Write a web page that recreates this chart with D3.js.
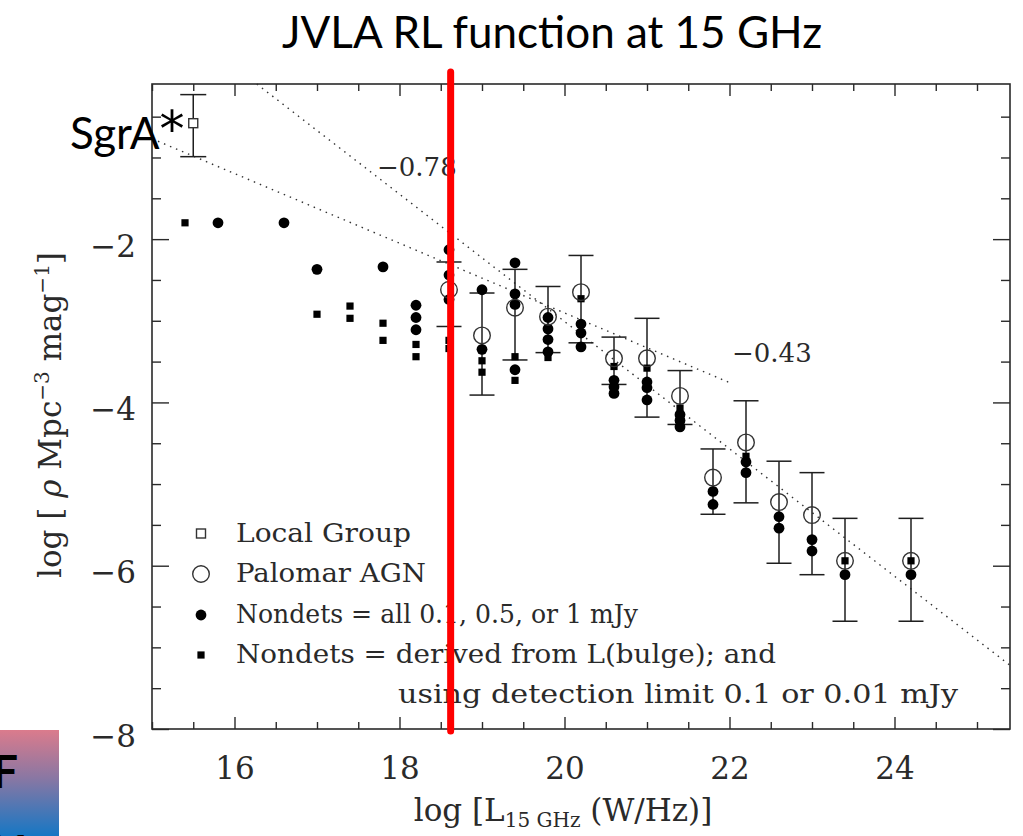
<!DOCTYPE html>
<html>
<head>
<meta charset="utf-8">
<script src="https://cdn.jsdelivr.net/npm/d3@7"></script>
<style>
  html, body { margin: 0; padding: 0; background: #fff; }
  svg { display: block; }
</style>
</head>
<body>
<svg id="chart" width="1023" height="836"></svg>
<script>
// ---- data ---------------------------------------------------------------
// Local Group (Sgr A*) point: log L, log rho, error bar range
const localX = [15.5];
const localY = [-0.58];
const localHi = [-0.23];
const localLo = [-0.99];

// Palomar AGN detections (open circles with error bars)
const palX  = [18.6, 19.0, 19.4, 19.8, 20.2, 20.6, 21.0, 21.4, 21.8, 22.2, 22.6, 23.0, 23.4, 24.2];
const palY  = [-2.62, -3.18, -2.84, -2.95, -2.65, -3.46, -3.46, -3.92, -4.92, -4.49, -5.22, -5.38, -5.94, -5.94];
const palHi = [-2.28, -2.66, -2.37, -2.58, -2.20, -3.20, -2.97, -3.61, -4.57, -3.98, -4.72, -4.86, -5.42, -5.42];
const palLo = [-3.07, -3.91, -3.48, -3.39, -3.27, -3.78, -4.18, -4.27, -5.37, -5.23, -5.97, -6.11, -6.68, -6.68];

// Non-detections at a fixed flux limit (filled circles)
const circX = [15.8, 16.6, 17.0, 17.8,
  18.2, 18.2, 18.2, 18.6, 18.6, 18.6, 19.0, 19.0,
  19.4, 19.4, 19.4, 19.4, 19.8, 19.8, 19.8, 19.8,
  20.2, 20.2, 20.2, 20.6, 20.6, 20.6, 21.0, 21.0, 21.0,
  21.4, 21.4, 21.4, 21.8, 21.8, 22.2, 22.2, 22.6, 22.6,
  23.0, 23.0, 23.4, 24.2];
const circY = [-1.80, -1.80, -2.37, -2.34,
  -2.81, -2.96, -3.11, -2.13, -2.44, -2.74, -2.62, -3.35,
  -2.29, -2.67, -2.80, -3.60, -2.96, -3.10, -3.23, -3.38,
  -3.04, -3.15, -3.32, -3.73, -3.81, -3.89, -3.75, -3.82, -3.97,
  -4.15, -4.22, -4.30, -5.09, -5.25, -4.73, -4.86, -5.40, -5.54,
  -5.68, -5.82, -6.11, -6.11];

// Non-detections from bulge luminosity (filled squares)
const sqX = [15.4, 17.0, 17.4, 17.4, 17.8, 17.8, 18.2, 18.2, 18.6, 18.6,
  19.0, 19.0, 19.4, 19.4, 19.8, 20.2, 20.6, 21.0, 21.4, 22.2, 23.4, 24.2];
const sqY = [-1.80, -2.92, -2.82, -2.97, -3.03, -3.24, -3.29, -3.44, -3.24, -3.34,
  -3.49, -3.63, -3.44, -3.73, -3.45, -2.73, -3.56, -3.58, -4.07, -4.66, -5.94, -5.94];

// Power-law slope guides: [x0, y0, x1, y1] in data units, with their labels
const slopeLabels = ["\u22120.78", "\u22120.43"];
const slopeSteep = [16.27, -0.10, 25.4, -7.22];
const slopeShallow = [15.0, -0.77, 22.03, -3.77];

// Luminosity marked by the vertical cut
const cutL = 18.62;

// Axis ticks
const xMajor = [16, 18, 20, 22, 24];
const yMajor = [-8, -6, -4, -2];

const legendLabels = [
  "Local Group",
  "Palomar AGN",
  "Nondets = all 0.1, 0.5, or 1 mJy",
  "Nondets = derived from L(bulge); and",
  "using detection limit 0.1 or 0.01 mJy"
];

// ---- drawing ------------------------------------------------------------
const svg = d3.select("#chart");
const serif = "'DejaVu Serif', serif";
const ink = "#2a2a2a";

const x = d3.scaleLinear().domain([15, 25.4]).range([152, 1010]);
const y = d3.scaleLinear().domain([-8, -0.1]).range([729, 84]);
const [x0, x1] = x.range();
const [y0, y1] = y.range();

const xMinor = d3.range(15, 25.41, 0.5).filter(v => !xMajor.includes(v));
const yMinor = d3.range(-8, -0.09, 0.5).filter(v => !yMajor.includes(v));

// gradient tab at lower left
const defs = svg.append("defs");
const grad = defs.append("linearGradient").attr("id", "tab")
  .attr("x1", 0).attr("y1", 0).attr("x2", 0).attr("y2", 1);
grad.append("stop").attr("offset", "0%").attr("stop-color", "#db7b8c");
grad.append("stop").attr("offset", "45%").attr("stop-color", "#8a77a3");
grad.append("stop").attr("offset", "100%").attr("stop-color", "#1677c4");
svg.append("rect").attr("x", 0).attr("y", 730).attr("width", 59).attr("height", 106)
  .attr("fill", "url(#tab)");
svg.append("text").attr("x", -8).attr("y", 788).text("F")
  .attr("font-family", "Lato, sans-serif").attr("font-weight", 700)
  .attr("font-size", 46).attr("fill", "#000");
svg.append("text").attr("x", -6).attr("y", 868).text("Y")
  .attr("font-family", "Lato, sans-serif").attr("font-weight", 700)
  .attr("font-size", 46).attr("fill", "#000");

// axes with inward ticks on all four sides
function styleAxis(g) {
  g.select(".domain").remove();
  g.selectAll("line").attr("stroke", ink).attr("stroke-width", 1.4);
  g.selectAll("text").attr("font-family", serif).attr("font-size", 31).attr("fill", ink);
}
svg.append("g").attr("transform", `translate(0,${y0})`)
  .call(d3.axisBottom(x).tickValues(xMajor).tickSize(-12).tickPadding(28).tickFormat(d3.format("d")))
  .call(styleAxis);
svg.append("g").attr("transform", `translate(0,${y0})`)
  .call(d3.axisBottom(x).tickValues(xMinor).tickSize(-7).tickFormat(""))
  .call(styleAxis);
svg.append("g").attr("transform", `translate(0,${y1})`)
  .call(d3.axisTop(x).tickValues(xMajor).tickSize(-12).tickFormat(""))
  .call(styleAxis);
svg.append("g").attr("transform", `translate(0,${y1})`)
  .call(d3.axisTop(x).tickValues(xMinor).tickSize(-7).tickFormat(""))
  .call(styleAxis);
const yl = svg.append("g").attr("transform", `translate(${x0},0)`)
  .call(d3.axisLeft(y).tickValues(yMajor).tickSize(-17).tickPadding(16).tickFormat(d3.format("d")))
  .call(styleAxis);
yl.selectAll("text").attr("dy", "0.55em");
svg.append("g").attr("transform", `translate(${x0},0)`)
  .call(d3.axisLeft(y).tickValues(yMinor).tickSize(-9).tickFormat(""))
  .call(styleAxis);
svg.append("g").attr("transform", `translate(${x1},0)`)
  .call(d3.axisRight(y).tickValues(yMajor).tickSize(-17).tickFormat(""))
  .call(styleAxis);
svg.append("g").attr("transform", `translate(${x1},0)`)
  .call(d3.axisRight(y).tickValues(yMinor).tickSize(-9).tickFormat(""))
  .call(styleAxis);
svg.append("rect").attr("x", x0).attr("y", y1).attr("width", x1 - x0).attr("height", y0 - y1)
  .attr("fill", "none").attr("stroke", ink).attr("stroke-width", 1.6);

// dotted slope guides
[slopeSteep, slopeShallow].forEach(s => {
  svg.append("line")
    .attr("x1", x(s[0])).attr("y1", y(s[1])).attr("x2", x(s[2])).attr("y2", y(s[3]))
    .attr("stroke", "#333").attr("stroke-width", 1.4).attr("stroke-dasharray", "1.5 5");
});
svg.append("text").attr("x", 377).attr("y", 176).text(slopeLabels[0])
  .attr("font-family", serif).attr("font-size", 26).attr("fill", ink);
svg.append("text").attr("x", 732).attr("y", 362).text(slopeLabels[1])
  .attr("font-family", serif).attr("font-size", 26).attr("fill", ink);

// error bars
function errorBars(xs, lo, hi, half) {
  const g = svg.append("g").attr("stroke", "#1e1e1e").attr("stroke-width", 1.5);
  xs.forEach((xv, i) => {
    const cx = x(xv);
    g.append("line").attr("x1", cx).attr("x2", cx).attr("y1", y(lo[i])).attr("y2", y(hi[i]));
    g.append("line").attr("x1", cx - half).attr("x2", cx + half).attr("y1", y(lo[i])).attr("y2", y(lo[i]));
    g.append("line").attr("x1", cx - half).attr("x2", cx + half).attr("y1", y(hi[i])).attr("y2", y(hi[i]));
  });
}
errorBars(palX, palLo, palHi, 12.5);
errorBars(localX, localLo, localHi, 13);

// filled squares
svg.append("g").selectAll("rect").data(sqX).join("rect")
  .attr("x", (d) => x(d) - 3.6).attr("y", (d, i) => y(sqY[i]) - 3.6)
  .attr("width", 7.2).attr("height", 7.2).attr("fill", "#000");

// filled circles
svg.append("g").selectAll("circle").data(circX).join("circle")
  .attr("cx", d => x(d)).attr("cy", (d, i) => y(circY[i])).attr("r", 5.4).attr("fill", "#000");

// open circles
svg.append("g").selectAll("circle").data(palX).join("circle")
  .attr("cx", d => x(d)).attr("cy", (d, i) => y(palY[i])).attr("r", 8.3)
  .attr("fill", "none").attr("stroke", "#333").attr("stroke-width", 1.4);

// open square
svg.append("g").selectAll("rect").data(localX).join("rect")
  .attr("x", d => x(d) - 4.5).attr("y", (d, i) => y(localY[i]) - 4.5)
  .attr("width", 9).attr("height", 9).attr("fill", "#fff")
  .attr("stroke", "#333").attr("stroke-width", 1.4);

// legend
const lg = svg.append("g").attr("font-family", serif).attr("font-size", 26).attr("fill", ink);
const symX = 201, txtX = 236;
const rows = [542, 582, 623, 663];
lg.append("rect").attr("x", symX - 4.5).attr("y", rows[0] - 13).attr("width", 9).attr("height", 9)
  .attr("fill", "none").attr("stroke", "#333").attr("stroke-width", 1.4);
lg.append("circle").attr("cx", symX).attr("cy", rows[1] - 8).attr("r", 8.3)
  .attr("fill", "none").attr("stroke", "#333").attr("stroke-width", 1.4);
lg.append("circle").attr("cx", symX).attr("cy", rows[2] - 8).attr("r", 5.4).attr("fill", "#000");
lg.append("rect").attr("x", symX - 3.6).attr("y", rows[3] - 11.6).attr("width", 7.2).attr("height", 7.2)
  .attr("fill", "#000");
const legendWidths = [175, 190, 402, 540, 560];
legendLabels.slice(0, 4).forEach((t, i) => {
  lg.append("text").attr("x", txtX).attr("y", rows[i]).text(t)
    .attr("textLength", legendWidths[i]).attr("lengthAdjust", "spacingAndGlyphs");
});
lg.append("text").attr("x", 398).attr("y", 703).text(legendLabels[4])
  .attr("textLength", legendWidths[4]).attr("lengthAdjust", "spacingAndGlyphs");

// axis titles
const xt = svg.append("text").attr("x", 563).attr("y", 821).attr("text-anchor", "middle")
  .attr("font-family", serif).attr("font-size", 31).attr("fill", ink);
xt.append("tspan").text("log [L");
xt.append("tspan").text("15 GHz").attr("font-size", 20).attr("dy", 6);
xt.append("tspan").text(" (W/Hz)]").attr("dy", -6);

const yt = svg.append("text").attr("transform", "translate(61,415) rotate(-90)")
  .attr("text-anchor", "middle").attr("font-family", serif).attr("font-size", 31).attr("fill", ink);
yt.append("tspan").text("log [ ");
yt.append("tspan").text("\u03c1").attr("font-style", "italic");
yt.append("tspan").text(" Mpc");
yt.append("tspan").text("\u22123").attr("font-size", 20).attr("dy", -12);
yt.append("tspan").text(" mag").attr("dy", 12);
yt.append("tspan").text("\u22121").attr("font-size", 20).attr("dy", -12);
yt.append("tspan").text("]").attr("dy", 12);

// vertical cut marker
svg.append("line").attr("x1", x(cutL)).attr("x2", x(cutL)).attr("y1", y1 - 12).attr("y2", y0 + 2)
  .attr("stroke", "#ff0000").attr("stroke-width", 7).attr("stroke-linecap", "round");

// headings
svg.append("text").attr("x", 552).attr("y", 48).attr("text-anchor", "middle")
  .text("JVLA RL function at 15 GHz")
  .attr("font-family", "Lato, sans-serif").attr("font-size", 44).attr("fill", "#000");
const sgr = svg.append("text").attr("x", 70).attr("y", 149)
  .attr("font-family", "Lato, sans-serif").attr("font-size", 44).attr("fill", "#000");
sgr.append("tspan").text("SgrA");
sgr.append("tspan").text("*").attr("font-family", "'DejaVu Sans', sans-serif")
  .attr("font-size", 50).attr("dy", -3);
</script>
</body>
</html>
